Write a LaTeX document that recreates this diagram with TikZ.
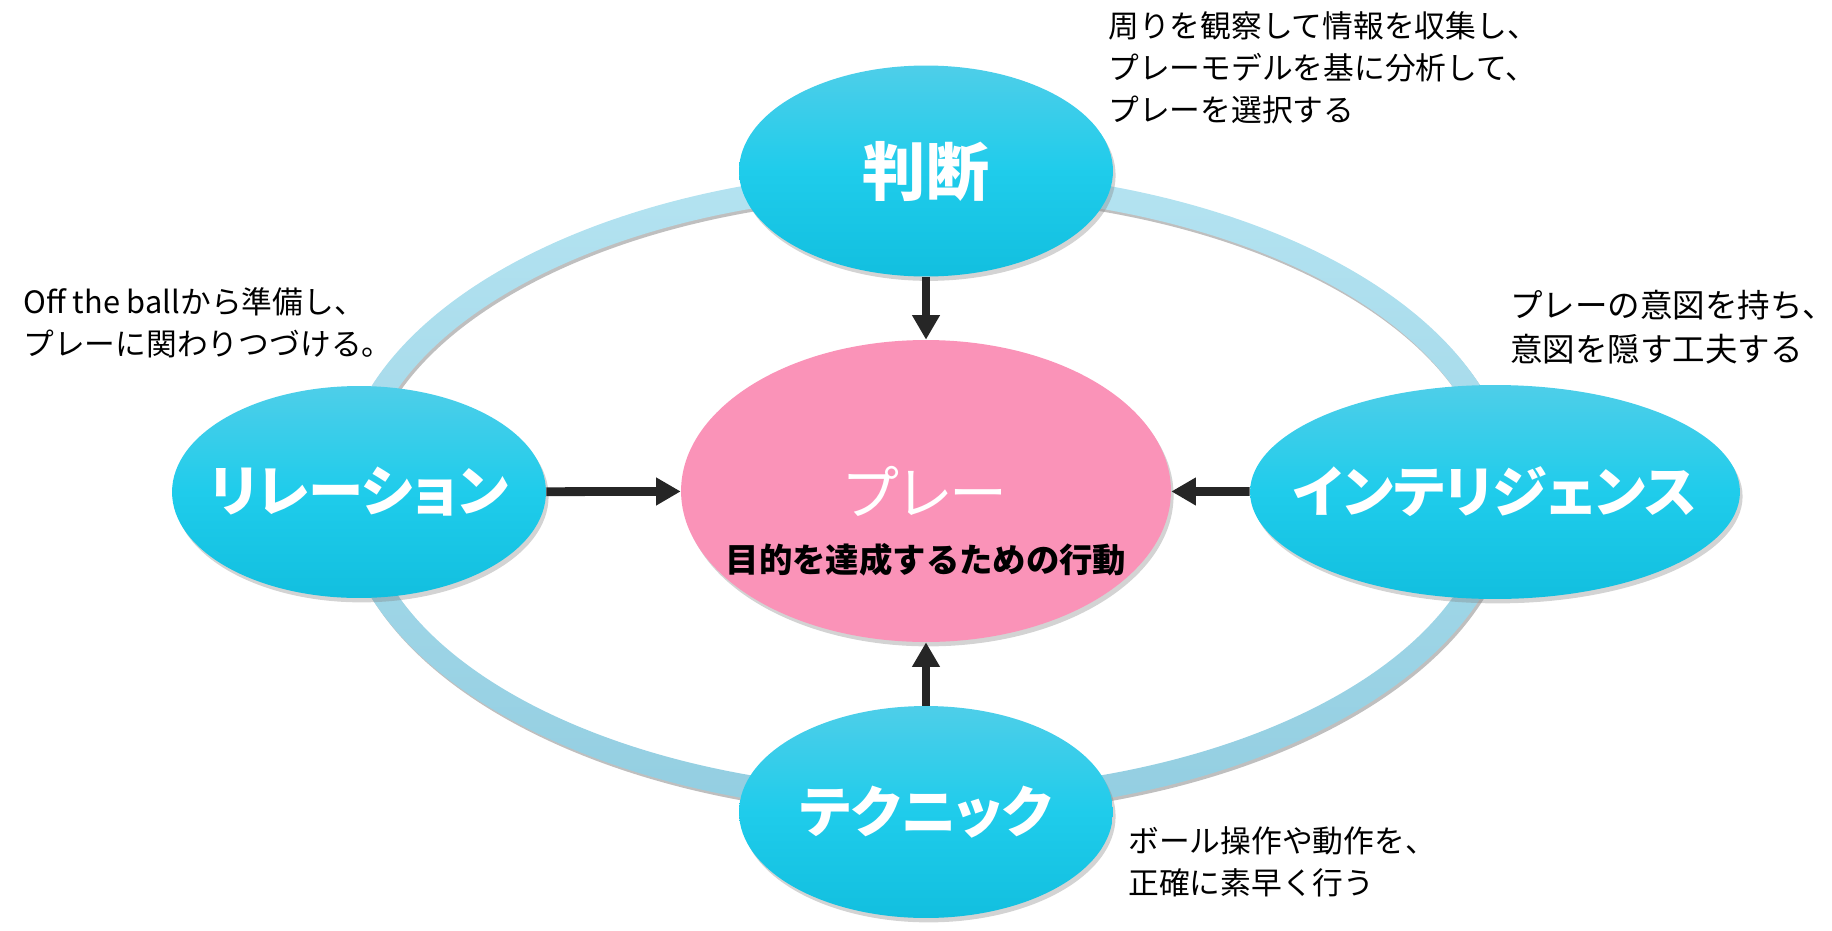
\documentclass[tikz,border=0pt]{standalone}
\usepackage{fontspec}
\setmainfont{Noto Sans CJK JP}
\newfontfamily\headfont{Noto Sans CJK JP}[RawFeature=+palt]
\usetikzlibrary{shapes.geometric,arrows.meta,shadows}
\definecolor{skytop}{HTML}{4ECEE9}
\definecolor{skymid}{HTML}{1FCCEB}
\definecolor{skybot}{HTML}{12BFDF}
\definecolor{playpink}{HTML}{FA93B8}
\definecolor{ringtop}{HTML}{B4E3F1}
\definecolor{ringbot}{HTML}{93CEE1}
\definecolor{arrowdark}{HTML}{262626}
\newcommand\nowidth[1]{\makebox[0pt]{#1}}

\begin{document}
\begin{tikzpicture}[
    x=0.02cm, y=-0.02cm,
    >={Triangle[length=14pt,width=15pt]},
    every node/.style={font=\fontsize{17.5}{24}\selectfont},
    facet/.style={
        ellipse,
        minimum width=7.48cm,
        minimum height=4.24cm,
        inner sep=0pt,
        top color=skytop, bottom color=skybot, middle color=skymid,
        draw=none,
        text=white,
        font=\headfont\bfseries\fontsize{31.5}{40}\selectfont,
        drop shadow={opacity=0.35,shadow xshift=1.5pt,shadow yshift=-2.5pt},
    },
    core/.style={
        ellipse,
        minimum width=9.8cm,
        minimum height=6.04cm,
        inner sep=0pt,
        fill=playpink,
        text=white,
        font=\headfont\fontsize{33}{40}\selectfont,
        drop shadow={opacity=0.35,shadow xshift=1.5pt,shadow yshift=-2.5pt},
    },
    goal/.style={inner sep=0pt,text=black,font=\bfseries\fontsize{19}{22}\selectfont},
    note/.style={anchor=west,align=left,inner sep=0pt,text=black},
    flow/.style={->,line width=5pt,draw=arrowdark},
    ring/.style={top color=ringtop,bottom color=ringbot,even odd rule},
    ringshadow/.style={fill=black,opacity=0.25,even odd rule},
]
\useasboundingbox (0,0) rectangle (1832,930);

% === Ring ===
\coordinate (hub) at (926,492);
\fill[ringshadow] ([shift={(2,3)}]hub) ellipse [x radius=587,y radius=322]
    ([shift={(2,3)}]hub) ellipse [x radius=563,y radius=298];
\shade[ring] (hub) ellipse [x radius=587,y radius=322]
    (hub) ellipse [x radius=563,y radius=298];

% === Four sides ===
\node[facet,minimum height=4.22cm,font=\headfont\bfseries\fontsize{36}{40}\selectfont] (judge) at (926,171) {\nowidth{判断}};
\node[facet] (relation) at (359,492) {\nowidth{リレーション}};
\node[facet,minimum width=9.8cm,minimum height=4.28cm] (intel) at (1495,492) {\nowidth{インテリジェンス}};
\node[facet] (technique) at (926,812) {\nowidth{テクニック}};

% === Centre ===
\node[core] (play) at (926,491) {\nowidth{プレー}};
\node[goal] (aim) at (926,560) {目的を達成するための行動};

\draw[flow] (judge) -- (play);
\draw[flow] (relation) -- (play);
\draw[flow] (intel) -- (play);
\draw[flow] (technique) -- (play);

% === Notes ===
\node[note] (judgenote) at (1108,68) {周りを観察して情報を収集し、\\プレーモデルを基に分析して、\\プレーを選択する};
\node[note] (relationnote) at (23,323) {Off the ballから準備し、\\プレーに関わりつづける。};
\node[note,font=\fontsize{18.5}{25}\selectfont] (intelnote) at (1510,327) {プレーの意図を持ち、\\意図を隠す工夫する};
\node[note] (technote) at (1128,862) {ボール操作や動作を、\\正確に素早く行う};

\end{tikzpicture}
\end{document}
